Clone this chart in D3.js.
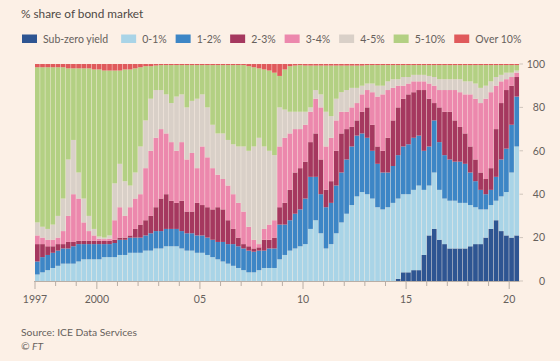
<!DOCTYPE html>
<html>
<head>
<meta charset="utf-8">
<script src="https://cdn.jsdelivr.net/npm/d3@7"></script>
<style>
  body { margin: 0; background: #fcf0e6; }
  svg { display: block; font-family: Lato, "Noto Sans", sans-serif; }
</style>
</head>
<body>
<div id="chart"></div>
<script>
// yield buckets, bottom of the stack first
const bands = ["Sub-zero yield", "0-1%", "1-2%", "2-3%", "3-4%", "4-5%", "5-10%", "Over 10%"];
const bandColors = ["#2e5592", "#a9d4e7", "#3d86c6", "#a5385f", "#ec88ad", "#d9d0c8", "#b3d083", "#e05a5c"];

// quarterly readings, first value = 1997 Q1, one row per year
const startYear = 1997;
// upper edge of each bucket, % of market (cumulative from the bottom)
const topSubZero = [
  0,0,0,0, 0,0,0,0, 0,0,0,0, 0,0,0,0, 0,0,0,0, 0,0,0,0,
  0,0,0,0, 0,0,0,0, 0,0,0,0, 0,0,0,0, 0,0,0,0, 0,0,0,0,
  0,0,0,0, 0,0,0,0, 0,0,0,0, 0,0,0,0, 0,0,0,0, 0,0,1,4,
  4,5,5,12, 21,24,19,17, 15,15,15,15, 16,17,17,20, 24,28,23,21, 20,21
];
const top0to1 = [
  3,4,5,6, 7,8,8,8, 9,10,10,10, 10,11,11,11, 12,12,13,13, 13,14,14,15,
  15,16,16,16, 15,14,14,13, 13,12,11,10, 9,8,7,6, 5,4,4,5, 6,6,6,10,
  12,14,15,16, 17,24,28,22, 15,17,22,27, 31,35,39,41, 40,38,34,33, 34,36,38,40,
  40,42,44,42, 44,50,42,38, 37,37,36,36, 35,34,33,33, 35,37,39,41, 50,62
];
const top1to2 = [
  9,11,12,13, 14,15,15,16, 17,17,17,17, 17,17,17,17.5, 19,19,20,20, 20,21,22,23,
  23,24,24,24, 23,22,22,21, 21,20,19,18, 18,17,17,16, 15,14,13.5,14, 14,15,15,26,
  26,28,31,33, 38,48,48,40, 34,36,44,50, 56,62,67,68, 66,60,54,50, 50,53,58,62,
  63,66,67,60, 62,74,64,58, 56,55,55,54, 50,46,42,40, 42,48,56,61, 72,85
];
const top2to3 = [
  17,17,16,16, 17,17,18,18, 18.5,18.5,18.5,18.5, 18.5,18.5,18.5,19, 20,20,21,24, 26,28,30,34,
  38,40,37,36, 37,32,32,36, 35,34,33,34, 33,28,24,20, 17,16,15,15.5, 19,19,20,34,
  36,42,50,52, 55,64,68,56, 42,46,60,68, 70,71,74,78, 80,72,62,60, 66,74,80,84,
  86,87,88,88, 84,82,80,78, 78,74,71,68, 62,56,50,47, 52,70,82,88, 90,94
];
const top3to4 = [
  21,20,19,19, 20,23,30,40, 38,27,23,21, 19.5,19.3,19.5,28, 34,30,34,38, 40,52,60,66,
  70,68,64,60, 64,56,59,52, 62,57,52,49, 47,44,40,36, 32,25,19,17, 24,26,28,62,
  66,68,70,70, 72,78,84,80, 62,66,74,78, 78,80,82,86, 88,87,85,86, 88,89,90,90,
  91,92,92,92, 91,90,88,88, 88,88,87,86, 86,84,82,84, 87,90,92,93, 94,96
];
const top4to5 = [
  27,25,24,26, 30,38,56,65, 50,38,30,24, 20.5,20,21,45, 54,46,44,50, 62,74,84,88,
  88,86,82,85, 86,80,83,84, 86,80,72,68, 68,65,63,62, 62,60,62,66, 62,60,58,80,
  79,78,78,78, 78,80,88,86, 78,76,84,87, 88,89,89,90, 91,91,90,90, 92,93,93,94,
  94,95,95,95, 94.5,94,93,93, 93,93,93,92, 92,91,89,90, 92,94,95,96, 96,97
];
const top5to10 = [
  98.5,98.5,98.5,98.5, 98.5,98.5,98,98, 98,98,98,97.5, 97.5,97,97,97, 97,97.5,97.5,98, 98.5,99,99,99.3,
  99.5,99.5,99.5,99.5, 99.5,99.5,99.5,99.5, 99.5,99.5,99.5,99.5, 99.5,99.5,99.5,99.5, 99.5,99,98.5,98, 97.5,97,96,94.5,
  97.5,99,99.3,99.5, 99.3,99.3,99.3,99.3, 99.3,99.3,99.3,99.3, 99.3,99.3,99.3,99.3, 99.5,99.5,99.5,99.5, 99.5,99.5,99.5,99.5,
  99.5,99.5,99.5,99.5, 99.5,99.5,99.5,99.5, 99.5,99.5,99.5,99.5, 99.5,99.5,99.5,99.5, 99.5,99.5,99.5,99.5, 99.5,99.5
];

const yTicks = [0, 20, 40, 60, 80, 100];
const xTickYears = [1997, 2000, 2005, 2010, 2015, 2020];
const xTickLabels = ["1997", "2000", "05", "10", "15", "20"];

// turn the cumulative edges into each bucket's share
const edges = [topSubZero, top0to1, top1to2, top2to3, top3to4, top4to5, top5to10];
const data = topSubZero.map((_, i) => {
  const row = { t: startYear + i / 4 };
  let prev = 0;
  edges.forEach((e, k) => {
    row[bands[k]] = Math.max(0, e[i] - prev);
    prev = Math.max(prev, e[i]);
  });
  row[bands[7]] = 100 - prev;
  return row;
});

const width = 560, height = 361;
const svg = d3.select("#chart").append("svg")
  .attr("width", width)
  .attr("height", height);

const textCol = "#66605c";

// title
svg.append("text")
  .attr("x", 21).attr("y", 18)
  .attr("fill", "#4e4945")
  .style("font-size", "11.8px")
  .text("% share of bond market");

// legend
const legend = svg.append("g").attr("transform", "translate(22,34.5)");
let lx = 0;
bands.forEach((b, i) => {
  const g = legend.append("g").attr("transform", `translate(${lx},0)`);
  g.append("rect").attr("width", 15).attr("height", 8.5).attr("fill", bandColors[i]);
  const t = g.append("text")
    .attr("x", 21).attr("y", 8.2)
    .attr("fill", textCol)
    .style("font-size", "10.5px")
    .text(b);
  lx += 21 + t.node().getComputedTextLength() + (i === 0 ? 13 : 9);
});

// scales
const x = d3.scaleLinear().domain([1997, 2020.5]).range([35, 519.5]);
const y = d3.scaleLinear().domain([0, 100]).range([281, 64]);

// small grid stubs on the right
svg.append("g")
  .selectAll("line")
  .data(yTicks)
  .join("line")
  .attr("x1", 519.5).attr("x2", 523)
  .attr("y1", d => y(d)).attr("y2", d => y(d))
  .attr("stroke", "#cfc5bc").attr("stroke-width", 1);

// stacked bars
const series = d3.stack().keys(bands)(data);
const barGap = 0.45;
svg.append("g")
  .selectAll("g")
  .data(series)
  .join("g")
  .attr("fill", (d, i) => bandColors[i])
  .selectAll("rect")
  .data(d => d)
  .join("rect")
  .attr("x", d => x(d.data.t))
  .attr("width", d => x(d.data.t + 0.25) - x(d.data.t) - barGap)
  .attr("y", d => y(d[1]))
  .attr("height", d => Math.max(0, y(d[0]) - y(d[1])));

// y axis labels (right)
svg.append("g")
  .selectAll("text")
  .data(yTicks)
  .join("text")
  .attr("x", 545)
  .attr("y", d => y(d))
  .attr("dy", "0.36em")
  .attr("text-anchor", "end")
  .attr("fill", textCol)
  .style("font-size", "10.5px")
  .text(d => d);

// x axis: baseline, yearly ticks, labels
const xa = svg.append("g");
xa.append("line")
  .attr("x1", x(1997) - 1).attr("x2", x(2020.5))
  .attr("y1", 281.5).attr("y2", 281.5)
  .attr("stroke", "#b8aea6");
xa.selectAll(".tick")
  .data(d3.range(1997, 2021))
  .join("line")
  .attr("class", "tick")
  .attr("x1", d => x(d)).attr("x2", d => x(d))
  .attr("y1", 281)
  .attr("y2", d => xTickYears.includes(d) ? 289 : 286)
  .attr("stroke", "#b8aea6");
xa.selectAll(".lbl")
  .data(xTickYears)
  .join("text")
  .attr("class", "lbl")
  .attr("x", d => x(d))
  .attr("y", 302.5)
  .attr("text-anchor", "middle")
  .attr("fill", textCol)
  .style("font-size", "10.5px")
  .text((d, i) => xTickLabels[i]);

// source
svg.append("text")
  .attr("x", 21).attr("y", 335.5)
  .attr("fill", textCol)
  .style("font-size", "10.3px")
  .text("Source: ICE Data Services");
svg.append("text")
  .attr("x", 21).attr("y", 349.5)
  .attr("fill", textCol)
  .style("font-size", "10.3px")
  .style("font-style", "italic")
  .text("© FT");
</script>
</body>
</html>
